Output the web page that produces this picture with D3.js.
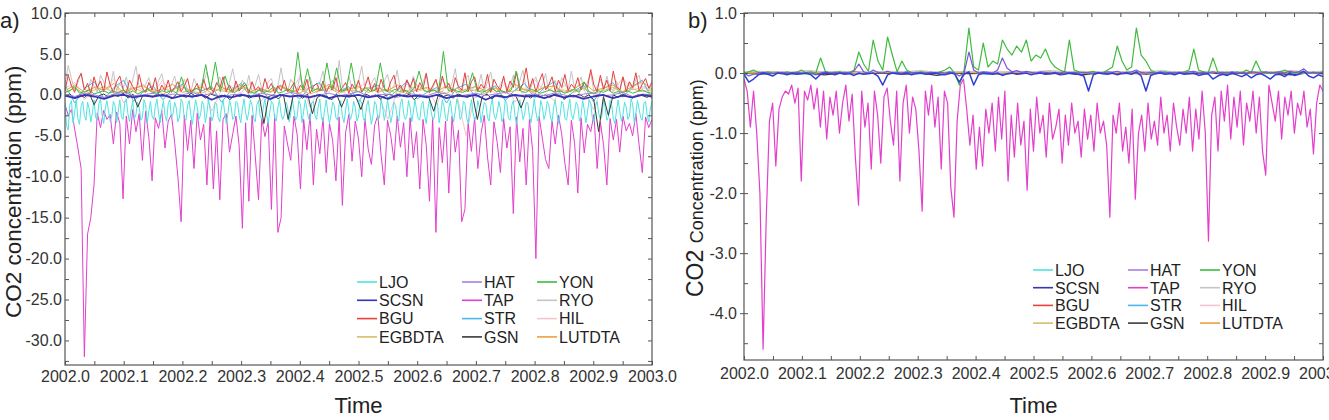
<!DOCTYPE html>
<html>
<head>
<meta charset="utf-8">
<script src="https://cdn.jsdelivr.net/npm/d3@7"></script>
<style>
  body { margin: 0; background: #fff; }
  svg { font-family: "Liberation Sans", Arial, sans-serif; }
</style>
</head>
<body>
<svg id="chart" width="1329" height="420"></svg>
<script>
// ---- data (2002.0 .. 2003.0, evenly spaced samples) ----
const stations = ["LJO", "SCSN", "BGU", "EGBDTA", "HAT", "TAP", "STR", "GSN", "YON", "RYO", "HIL", "LUTDTA"];

const xTicks = [2002.0, 2002.1, 2002.2, 2002.3, 2002.4, 2002.5, 2002.6, 2002.7, 2002.8, 2002.9, 2003.0];
const xMinorTicks = [2002.0, 2002.05, 2002.1, 2002.15, 2002.2, 2002.25, 2002.3, 2002.35, 2002.4, 2002.45, 2002.5,
  2002.55, 2002.6, 2002.65, 2002.7, 2002.75, 2002.8, 2002.85, 2002.9, 2002.95, 2003.0];
const yTicksA = [10, 5, 0, -5, -10, -15, -20, -25, -30];
const yMinorA = [10, 7.5, 5, 2.5, 0, -2.5, -5, -7.5, -10, -12.5, -15, -17.5, -20, -22.5, -25, -27.5, -30, -32.5];
const yTicksB = [1, 0, -1, -2, -3, -4];
const yMinorB = [1, 0.5, 0, -0.5, -1, -1.5, -2, -2.5, -3, -3.5, -4, -4.5];

// panel a) series
const TAP_a = [
  -1.2,-2.5,-1.8,-4.2,-6.5,-9.0,-32.0,-17.0,-15.0,-11.0,
  -2.2,-4.0,-1.9,-3.0,-2.4,-6.0,-2.1,-3.5,-12.7,-2.6,
  -6.0,-1.8,-4.5,-2.3,-8.0,-2.0,-5.2,-10.5,-2.8,-4.1,
  -1.9,-6.5,-3.2,-2.4,-5.8,-10.0,-15.5,-2.5,-6.8,-3.1,
  -9.0,-2.2,-5.5,-3.6,-11.0,-2.7,-11.5,-4.4,-12.8,-3.0,
  -2.3,-7.0,-4.8,-2.6,-6.2,-16.3,-3.4,-13.0,-2.5,-7.5,
  -12.8,-2.9,-5.1,-3.3,-14.0,-2.4,-16.8,-15.0,-3.8,-6.0,
  -8.0,-2.6,-4.9,-11.5,-3.0,-6.7,-2.3,-11.0,-4.2,-7.2,
  -2.8,-9.5,-3.5,-5.6,-10.5,-2.7,-13.5,-4.6,-2.4,-8.1,
  -3.2,-5.4,-10.0,-2.9,-6.6,-8.5,-3.7,-2.5,-7.3,-11.0,
  -3.1,-5.0,-8.0,-2.6,-6.4,-3.4,-10.0,-2.8,-7.7,-4.5,
  -11.5,-3.0,-6.1,-13.0,-2.7,-16.8,-4.0,-8.3,-3.2,-12.0,
  -2.6,-7.0,-4.3,-15.5,-14.0,-3.5,-6.9,-2.8,-9.0,-4.7,
  -2.5,-7.6,-11.0,-3.3,-5.8,-9.5,-2.9,-6.5,-3.9,-14.5,
  -2.7,-8.2,-4.1,-11.0,-3.0,-6.8,-20.0,-2.6,-5.3,-7.9,
  -9.0,-3.2,-6.0,-2.5,-4.8,-8.4,-11.0,-3.1,-5.9,-12.0,
  -2.8,-7.1,-3.6,-4.5,-2.4,-9.0,-3.3,-6.2,-11.0,-2.9,
  -5.5,-3.0,-7.0,-2.6,-4.4,-3.5,-5.0,-2.3,-6.1,-9.5,
  -2.7,-4.0,-3.0
];
const LJO_a = [
  -1.0,-3.8,-4.3,-1.2,-0.7,-3.4,-2.1,-0.6,-2.9,-3.6,-1.4,-0.8,-2.5,-3.1,-0.9,-1.7,-3.3,-2.2,-0.6,-2.8,
  -3.0,-1.1,-0.5,-2.4,-3.5,-1.6,-0.7,-2.0,-3.2,-2.6,-0.8,-1.3,-3.4,-2.1,-0.6,-2.7,-3.0,-1.0,-0.5,-2.3,
  -3.3,-1.8,-0.7,-2.9,-2.4,-0.9,-1.5,-3.1,-2.8,-0.6,-1.2,-3.5,-2.0,-0.8,-2.6,-3.0,-1.4,-0.5,-2.2,-3.4,
  -1.9,-0.7,-2.5,-3.2,-1.1,-0.6,-2.8,-2.3,-0.9,-1.6,-3.3,-2.7,-0.5,-1.0,-2.9,-3.1,-1.3,-0.7,-2.4,-3.6,
  -2.0,-0.6,-1.5,-3.0,-2.5,-0.8,-1.2,-3.4,-2.2,-0.5,-1.8,-3.2,-2.6,-0.9,-1.1,-2.8,-3.3,-1.6,-0.6,-2.1,
  -3.5,-2.3,-0.7,-1.4,-3.0,-2.7,-0.8,-1.0,-2.5,-3.4,-1.7,-0.5,-2.2,-3.1,-2.0,-0.6,-1.3,-2.9,-3.3,-1.2,
  -0.7,-2.6,-3.0,-1.5,-0.5,-2.4,-3.5,-2.1,-0.8,-1.1,-2.8,-3.2,-1.6,-0.6,-2.3,-3.0,-2.5,-0.9,-1.4,-3.3,
  -2.2,-0.5,-1.9,-3.1,-2.6,-0.7,-1.2,-3.4,-2.0,-0.6,-1.7,-2.9,-3.2,-1.0,-0.8,-2.5,-3.0,-1.5,-0.5,-2.7,
  -3.3,-1.8,-0.6,-2.2,-3.5,-2.4,-0.9,-1.3,-2.8,-3.1,-1.1,-0.7,-2.6,-3.4,-1.9,-0.5,-2.0,-3.0,-2.3,-0.8,
  -1.5,-3.2,-2.7,-0.6,-1.0,-2.9,-3.3,-1.4,-0.7,-2.1,-3.6,-2.5,-0.8,-1.2,-3.0,-2.8,-0.5,-1.6,-3.1,-2.2,
  -0.6,-1.9,-3.4,-2.4,-0.9,-1.3,-2.7,-3.2,-1.0,-0.5,-2.3,-3.0,-2.6,-0.7,-1.5,-3.3,-2.1,-0.6,-1.8,-2.9,
  -3.1,-1.2,-0.8,-2.5,-3.5,-1.7,-0.5,-2.0,-3.0,-2.8,-0.9,-1.1,-3.4,-2.3,-0.6,-1.4,-2.9,-3.2,-1.6,-0.7,
  -2.4,-3.3,-2.0,-0.5,-1.3,-3.0,-2.6,-0.8,-1.0,-2.7,-3.5,-1.8,-0.6,-2.2,-3.1,-2.5,-0.7,-1.5,-3.4,-2.1,
  -0.9,-1.2,-2.8,-3.2,-1.4,-0.5,-2.4,-3.0,-2.2,-0.8,-1.7,-3.3,-2.7,-0.6,-1.1,-2.9,-3.1,-1.3,-0.7,-2.5,
  -3.6,-2.0,-0.6,-1.6,-3.0,-2.4,-0.9,-1.0,-2.6,-3.4,-1.9,-0.5,-2.1,-3.2,-2.8,-0.7,-1.4,-3.0,-2.3,-0.8,
  -1.2,-2.7,-3.3,-1.5,-0.6,-2.2,-3.5,-2.5,-0.8,-1.1,-2.9,-3.1,-1.7,-0.5,-2.4,-3.0,-2.0,-0.9,-1.3,-3.2,
  -2.6,-0.7,-1.8,-3.4,-2.1,-0.6,-1.0,-2.8,-3.3,-1.4,-0.8,-2.3,-3.0,-2.5,-0.5,-1.6,-3.1,-2.7,-0.7,-1.2,
  -2.9,-3.5,-1.9,-0.6,-2.0,-3.2,-2.4,-0.9,-1.5,-3.0,-2.6,-0.5,-1.1,-3.4,-2.2,-0.7,-1.7,-2.8,-3.1,-1.0,
  -0.8,-2.5,-3.3,-1.6,-0.9
];
const BGU_a = [
  0.5,2.4,1.1,0.3,1.9,2.6,0.6,1.4,0.2,2.2,0.9,1.7,0.4,2.8,1.2,0.3,1.6,2.3,0.7,0.2,
  1.8,1.0,0.4,2.5,0.8,0.3,1.5,0.6,2.1,0.2,1.2,0.5,1.8,0.3,0.9,1.6,0.4,1.1,2.0,0.3,
  0.7,1.4,0.2,1.9,0.6,1.0,0.3,1.5,0.8,2.2,0.4,1.2,0.3,1.7,0.5,0.9,1.3,0.2,1.6,0.6,
  1.0,0.3,2.0,0.7,1.4,0.2,1.1,0.5,1.8,0.4,0.8,1.5,0.3,1.2,0.6,1.9,0.2,1.0,1.4,0.5,
  1.7,0.3,1.1,0.6,2.1,0.4,0.9,1.5,0.2,1.3,0.7,1.8,0.3,1.0,2.2,0.5,1.4,0.3,1.9,0.8,
  0.4,1.6,2.4,0.6,1.2,0.3,1.8,0.9,2.0,0.4,1.5,0.7,2.6,0.3,1.1,1.9,0.5,2.3,0.8,1.4,
  0.3,2.1,1.0,0.6,2.7,0.4,1.6,2.2,0.5,1.3,0.8,2.5,0.3,1.9,1.1,0.6,2.3,0.4,1.7,0.9,
  2.8,0.5,1.4,3.3,0.7,2.0,0.4,1.6,2.6,0.6,1.2,2.2,0.4,1.8,0.9,2.5,0.5,1.3,0.8,2.1,
  0.6,1.5,0.9,3.1,1.2,0.4,2.4,0.7,1.8,0.5,2.9,1.0,0.6,2.2,0.4,1.6,0.9,2.7,0.5,1.3,
  2.0,0.8,1.5
];
const RYO_a = [
  1.2,3.6,2.0,0.5,1.5,2.7,0.8,0.4,1.9,1.1,0.3,2.4,1.6,0.6,1.0,2.9,0.5,1.4,0.7,2.2,
  0.4,1.8,3.5,0.9,0.5,1.3,2.1,0.6,0.3,1.7,2.6,0.8,0.5,1.2,2.3,0.4,1.0,1.9,0.6,0.3,
  2.0,1.1,0.5,1.6,2.8,0.7,0.4,1.3,2.2,0.9,0.3,1.5,3.2,1.0,0.5,1.8,0.6,2.4,0.4,1.2,
  2.5,0.7,0.3,1.6,2.0,0.5,1.1,3.3,0.8,0.4,1.9,1.3,0.6,2.6,0.5,1.0,2.2,0.7,0.3,1.5,
  2.9,0.6,1.2,1.8,0.4,4.2,1.0,0.5,2.3,0.8,0.3,1.6,3.5,0.9,0.5,1.4,2.1,0.6,0.4,1.7,
  2.5,0.7,1.1,3.0,0.5,0.9,1.9,0.4,2.3,1.2,0.6,1.5,2.7,0.5,0.8,1.8,0.3,2.0,1.0,0.6,
  1.4,3.2,0.7,0.4,1.9,2.4,0.5,1.1,0.8,2.5,0.4,1.6,2.8,0.6,0.3,1.3,2.0,0.7,1.0,2.4,
  0.5,1.7,3.0,0.8,0.4,1.5,2.2,0.6,1.2,2.6,0.5,0.9,1.8,0.3,2.1,1.4,0.6,2.9,0.7,1.1,
  2.2,0.5,1.6,2.6,0.4,1.0,1.9,0.6,2.3,0.8,0.5,1.7,0.3,2.2,0.9,1.5,0.6,1.9,2.4,0.7,
  1.1,0.5,1.8
];
const YON_a = [
  0.3,0.5,1.0,0.2,0.4,0.6,0.1,0.3,0.5,0.2,
  0.4,0.3,0.6,0.2,0.5,0.1,0.4,0.7,0.3,0.2,
  0.5,0.3,0.6,0.2,2.2,0.4,0.3,0.8,0.5,3.7,
  0.6,4.0,0.4,2.3,0.5,0.3,0.7,1.5,0.4,0.2,
  0.6,0.3,0.5,1.0,0.2,0.4,0.7,0.3,5.2,0.6,
  3.2,0.4,0.8,0.5,3.9,0.6,3.3,0.4,0.7,3.9,
  0.5,0.3,0.9,0.4,0.6,3.9,0.5,0.3,0.7,0.4,
  0.6,0.3,0.8,2.9,0.5,0.4,0.6,0.3,5.3,0.5,
  0.7,0.4,0.3,0.6,2.7,0.4,0.5,0.3,0.8,0.4,
  0.5,0.3,0.6,2.9,0.4,0.3,0.7,0.5,0.2,0.4,
  0.6,0.3,0.5,0.2,0.4,0.7,0.3,1.6,0.4,0.2,
  0.5,0.3,0.6,0.2,0.4,0.3,0.5,0.2,0.4,0.6,
  0.3,0.2
];
const GSN_a = [
  -0.2,0.1,-0.4,0.0,-0.3,0.2,-1.2,-0.1,0.1,-0.3,
  0.0,-0.2,0.2,-0.4,0.1,-1.5,-0.1,0.0,-0.3,0.1,
  -0.2,0.0,-0.5,0.1,-0.1,-0.3,0.2,-0.2,0.0,-0.4,
  0.1,-0.1,-0.3,0.0,-0.6,0.1,-0.2,0.0,-0.4,-0.1,
  0.1,-3.5,-0.2,0.0,-0.5,0.1,-3.0,-0.2,0.0,-0.4,
  0.1,-2.3,-0.3,0.0,-0.2,-0.6,0.1,-1.5,-0.1,0.0,
  -0.3,-1.8,0.1,-0.2,0.0,-0.5,-0.1,0.1,-0.3,0.0,
  -0.2,0.1,-0.6,0.0,-0.1,-0.3,-2.0,0.1,-0.2,0.0,
  -0.4,0.1,-0.1,-0.3,0.0,-3.0,-0.2,0.1,-0.5,0.0,
  -0.1,-0.3,0.1,-0.2,-1.6,0.0,-0.4,0.1,-0.2,0.0,
  -0.3,0.1,-0.1,-0.5,0.0,-0.2,0.1,-0.3,0.0,-0.6,
  -4.5,-0.2,-2.5,0.0,-0.3,0.1,-0.2,-0.4,0.0,-0.1,
  -0.3,0.0
];
const SCSN_a = [
  -0.1,-0.4,0.0,-0.2,-0.5,-0.1,0.0,-0.3,-0.1,-0.2,
  0.0,-0.4,-0.1,-0.2,0.0,-0.6,-0.1,-0.3,0.0,-0.2,
  -0.1,-0.5,0.0,-0.2,-0.1,-0.3,0.0,-0.4,-0.1,-0.2,
  0.0,-0.3,-0.1,-0.5,0.0,-0.2,-0.1,-0.3,0.0,-0.4,
  -0.1,-0.2,0.0,-0.6,-0.1,-0.3,0.0,-0.2,-0.1,-0.4,
  0.0,-0.3,-0.1,-0.5,-0.2,0.0,-0.4,-0.1,-0.3,0.0,
  -0.2
];
const HAT_a = [
  0.1,-0.2,0.2,0.0,-0.3,0.1,0.3,-0.1,0.0,0.2,
  -0.2,0.1,0.0,0.3,-0.1,0.2,-0.3,0.0,0.1,-0.2,
  0.2,0.0,-0.1,0.3,0.1,-0.2,0.0,0.2,-0.1,0.1,
  0.4,-0.2,0.0,0.1,-0.3,0.2,0.0,-0.1,0.3,0.1,
  -0.2,0.0,0.2,-0.1,0.1,0.3,-0.2,0.0,0.1,-0.1,
  0.2,0.0,-0.3,0.1,0.2,-0.1,0.0,0.3,-0.2,0.1,
  0.0
];
const STR_a = [
  1.2,-1.0,0.8,1.6,-0.5,0.9,1.8,-0.8,0.4,1.1,
  -0.6,0.7,1.3,-0.4,0.5,1.0,-0.9,0.6,1.4,-0.3,
  0.8,-0.7,1.2,0.3,-0.5,0.9,1.5,-0.6,0.4,1.0,
  -0.8,0.7,1.2,-0.4,0.6,1.7,-0.5,0.3,0.9,-1.0,
  0.8,1.3,-0.3,0.5,1.1,-0.7,0.6,1.4,-0.4,0.9,
  1.6,-0.6,0.4,1.2,-0.8,0.7,1.5,-0.3,1.0,1.8,
  -0.5
];
const HIL_a = [
  0.8,1.5,-0.6,1.1,0.4,2.0,-1.0,0.7,1.3,0.2,
  1.8,-0.5,0.9,0.3,1.4,-2.0,0.6,1.0,0.2,1.6,
  -0.8,0.5,1.2,0.3,2.2,-1.5,0.7,0.4,1.1,-0.4,
  0.9,1.7,0.2,-3.0,0.6,1.3,0.4,0.8,-1.2,1.5,
  0.3,-5.0,0.7,1.0,0.2,1.4,-0.9,0.6,1.9,0.4,
  -0.7,1.2,0.5,0.8,-1.8,1.1,0.3,2.1,0.6,1.0,
  0.4
];
const EGBDTA_a = [
  0.3,0.8,0.1,0.6,1.0,0.2,0.5,0.9,0.3,0.7,
  0.1,0.6,1.1,0.4,0.2,0.8,0.5,0.3,0.9,0.2,
  0.6,0.4,1.0,0.3,0.7,0.1,0.5,0.8,0.2,0.6,
  0.4,0.9,0.3,0.7,0.1,0.5,1.2,0.3,0.6,0.2,
  0.8,0.4,0.6,0.1,0.9,0.3,0.5,0.7,0.2,1.0,
  0.4,0.6,0.3,0.8,0.1,0.5,0.9,0.3,0.7,0.4,
  0.6
];
const LUTDTA_a = [
  0.5,1.2,0.3,0.9,0.6,1.4,0.2,0.8,1.1,0.4,
  0.7,1.3,0.3,0.6,1.0,0.2,0.9,0.5,1.2,0.4,
  0.8,0.3,1.1,0.6,0.2,0.9,0.5,1.3,0.4,0.7,
  1.0,0.3,0.8,0.5,1.2,0.2,0.6,0.9,0.4,1.1,
  0.3,0.7,1.0,0.5,0.8,0.2,1.3,0.6,0.4,0.9,
  1.1,0.3,0.7,1.5,0.5,0.8,1.2,0.4,1.0,1.6,
  0.7
];

// panel b) series
const TAP_b = [
  -0.1,-0.3,-0.9,-0.3,-1.0,-2.0,-4.6,-2.4,-0.8,-0.5,
  -1.55,-0.6,-0.4,-0.3,-0.35,-0.2,-0.5,-0.25,-1.8,-0.3,
  -0.45,-0.2,-0.6,-0.25,-0.9,-0.3,-1.1,-0.4,-0.7,-0.3,
  -1.0,-0.5,-0.2,-0.8,-0.35,-1.4,-2.2,-0.3,-0.9,-0.5,
  -1.6,-0.3,-0.7,-1.5,-0.4,-0.25,-0.8,-1.2,-0.3,-1.8,
  -0.5,-0.2,-1.0,-0.4,-0.6,-1.3,-2.3,-0.3,-0.7,-0.2,
  -0.9,-0.4,-1.6,-0.3,-0.5,-1.9,-2.4,-0.8,-0.2,-0.1,
  -0.6,-1.2,-0.7,-1.6,-0.9,-1.55,-0.6,-1.0,-0.5,-1.3,
  -0.4,-1.1,-0.3,-1.8,-0.7,-1.4,-0.5,-1.2,-0.8,-1.95,
  -0.6,-1.3,-0.4,-1.0,-0.7,-1.4,-0.5,-1.1,-0.9,-0.6,
  -1.5,-0.7,-1.2,-0.5,-1.0,-0.8,-1.4,-0.6,-1.1,-0.7,
  -1.3,-0.5,-1.0,-0.8,-1.2,-2.4,-0.7,-1.0,-0.5,-1.3,
  -0.9,-1.5,-0.6,-2.1,-1.0,-0.7,-1.3,-0.5,-1.1,-0.8,
  -1.2,-0.4,-1.0,-0.7,-1.3,-0.5,-0.9,-1.2,-0.6,-1.0,
  -0.4,-1.3,-0.6,-1.1,-0.3,-1.0,-2.8,-0.7,-0.4,-1.3,
  -0.3,-0.8,-0.2,-1.1,-0.4,-0.9,-0.3,-1.2,-0.5,-0.8,
  -0.3,-1.0,-0.4,-1.3,-1.7,-0.2,-0.5,-0.8,-0.3,-1.1,
  -0.4,-0.7,-0.3,-1.0,-0.5,-0.7,-0.3,-0.9,-0.6,-1.35,
  -0.5,-0.2,-0.3
];
const YON_b = [
  0.0,0.02,0.05,0.01,0.0,0.02,0.0,0.01,0.0,0.02,
  0.0,0.01,0.05,0.0,0.02,0.0,0.25,0.03,0.0,0.01,
  0.02,0.0,0.01,0.05,0.35,0.15,0.03,0.55,0.2,0.05,
  0.6,0.3,0.02,0.2,0.05,0.01,0.0,0.02,0.0,0.01,
  0.0,0.02,0.05,0.1,0.0,-0.2,0.05,0.75,0.1,0.05,
  0.5,0.1,0.2,0.15,0.55,0.4,0.3,0.45,0.35,0.55,
  0.2,0.3,0.25,0.4,0.2,0.1,0.05,0.02,0.55,0.05,
  0.02,0.0,0.01,0.03,0.0,0.01,0.05,0.1,0.45,0.2,
  0.05,0.1,0.75,0.3,0.2,0.05,0.01,0.0,0.02,0.0,
  0.01,0.0,0.02,0.05,0.4,0.05,0.02,0.0,0.25,0.02,
  0.0,0.01,0.0,0.02,0.0,0.05,0.01,0.2,0.03,0.0,
  0.01,0.0,0.02,0.05,0.01,0.0,0.02,0.01,0.0,0.01,
  0.0,0.02
];
const SCSN_b = [
  -0.02,-0.15,-0.1,-0.03,0.0,-0.02,-0.05,0.0,-0.01,-0.03,
  0.0,-0.02,-0.01,0.0,-0.03,-0.1,-0.02,0.0,-0.01,-0.03,
  0.0,-0.02,-0.01,-0.04,0.0,-0.02,-0.01,0.0,-0.05,-0.2,
  -0.03,0.0,-0.01,-0.02,0.0,-0.03,-0.01,0.0,-0.02,-0.01,
  0.0,-0.02,-0.03,0.0,-0.01,-0.15,-0.02,0.02,-0.2,-0.03,
  0.0,-0.01,-0.02,0.0,-0.04,-0.01,0.0,-0.02,-0.01,0.0,
  -0.03,-0.01,0.0,-0.02,-0.01,0.0,-0.03,-0.02,0.0,-0.01,
  -0.02,-0.05,-0.3,-0.03,0.0,-0.01,-0.02,0.0,-0.03,-0.01,
  0.0,-0.02,0.02,-0.05,-0.3,-0.04,-0.01,0.0,-0.02,-0.01,
  -0.03,0.0,-0.02,-0.01,0.0,-0.04,-0.02,-0.01,-0.1,-0.05,
  -0.02,-0.04,0.0,-0.03,-0.06,-0.02,-0.08,-0.03,-0.01,-0.05,
  -0.1,-0.03,-0.02,-0.06,0.0,-0.04,-0.02,0.03,-0.05,-0.08,
  -0.03,-0.06
];
const HAT_b = [
  0.0,-0.05,-0.02,0.0,0.01,0.0,-0.01,0.0,0.01,0.0,
  0.0,0.01,0.0,-0.01,0.0,-0.03,0.0,0.02,0.0,0.01,
  0.0,0.01,0.0,0.03,0.15,0.02,0.0,0.05,0.01,0.0,
  0.03,0.0,0.01,0.0,0.02,0.0,0.01,0.0,0.0,0.01,
  0.0,0.01,0.0,0.02,0.0,-0.05,0.0,0.35,0.05,0.0,
  0.02,0.01,0.0,0.05,0.25,0.08,0.02,0.04,0.01,0.03,
  0.01,0.0,0.02,0.01,0.0,0.01,0.0,0.02,0.0,0.01,
  0.0,0.01,0.0,0.0,0.01,0.0,0.02,0.01,0.03,0.0,
  0.01,0.02,0.05,0.01,0.0,0.01,0.0,0.02,0.0,0.01,
  0.0,0.01,0.0,0.02,0.03,0.0,0.01,0.0,0.02,0.0,
  0.01,0.0,0.02,0.0,0.01,0.0,0.02,0.01,0.0,0.02,
  0.0,0.01,0.02,0.0,0.03,0.01,0.02,0.07,0.0,0.01,
  0.0,0.01
];
const LJO_b = [0.0,-0.01,0.01,0.0,-0.02,0.0,0.01,-0.01,0.0,0.0,0.01,-0.01,0.0,0.02,0.0,-0.01,0.0,0.01,0.0,-0.01,
  0.0,0.0,0.01,0.0,-0.01,0.0,0.01,0.0,-0.01,0.0,0.0,0.01,0.0,-0.01,0.0,0.01,0.0];
const BGU_b = [0.01,0.0,0.02,0.0,0.01,0.0,0.01,0.02,0.0,0.01,0.0,0.02,0.01,0.0,0.01,0.0,0.02,0.0,0.01,0.0,
  0.01,0.02,0.0,0.01,0.0,0.01,0.0,0.02,0.01,0.0,0.01,0.0,0.02,0.0,0.01,0.0,0.01];
const EGBDTA_b = [0.0,0.01,0.0,0.0,0.01,0.0,-0.01,0.0,0.01,0.0,0.0,0.01,0.0,0.0,-0.01,0.0,0.01,0.0,0.0,0.01,
  0.0,0.0,0.0,0.01,0.0,-0.01,0.0,0.0,0.01,0.0,0.0,0.01,0.0,0.0,0.0,0.01,0.0];
const STR_b = [-0.01,0.0,0.01,-0.02,0.0,0.01,0.0,-0.01,0.0,0.02,0.0,-0.01,0.0,0.01,0.0,-0.02,0.0,0.01,0.0,0.0,
  -0.01,0.0,0.01,0.0,-0.01,0.0,0.02,0.0,-0.01,0.0,0.01,0.0,-0.01,0.0,0.01,0.0,-0.01];
const GSN_b = [0.0,-0.02,0.0,-0.01,0.0,-0.03,0.0,-0.01,0.0,0.0,-0.02,0.0,-0.04,0.0,-0.01,0.0,-0.02,0.0,0.0,-0.01,
  0.0,-0.03,0.0,-0.01,0.0,-0.02,0.0,0.0,-0.01,0.0,-0.02,0.0,-0.01,0.0,-0.03,0.0,-0.01];
const RYO_b = [0.02,0.03,0.01,0.02,0.04,0.02,0.03,0.01,0.02,0.03,0.02,0.04,0.01,0.02,0.03,0.02,0.01,0.03,0.02,0.04,
  0.02,0.03,0.01,0.02,0.03,0.02,0.04,0.01,0.02,0.03,0.02,0.01,0.03,0.02,0.04,0.02,0.03];
const HIL_b = [0.01,0.0,0.02,0.01,0.0,0.01,0.03,0.0,0.01,0.02,0.0,0.01,0.0,0.02,0.01,0.0,0.03,0.01,0.0,0.02,
  0.01,0.0,0.01,0.02,0.0,0.01,0.0,0.02,0.01,0.0,0.03,0.01,0.0,0.02,0.01,0.0,0.01];
const LUTDTA_b = [0.0,0.01,0.01,0.0,0.02,0.0,0.01,0.0,0.01,0.02,0.0,0.01,0.0,0.0,0.02,0.01,0.0,0.01,0.0,0.02,
  0.0,0.01,0.01,0.0,0.02,0.0,0.01,0.0,0.01,0.02,0.0,0.01,0.0,0.0,0.02,0.01,0.0];

// ---- styling ----
const colors = {
  LJO: "#4fe3e3", SCSN: "#3535b5", BGU: "#e8403c", EGBDTA: "#d9bd6a",
  HAT: "#a67fe0", TAP: "#e33fcc", STR: "#4db6ea", GSN: "#3a3a3a",
  YON: "#3dbb3d", RYO: "#c4c4c4", HIL: "#f5c4cf", LUTDTA: "#efa040"
};
const FONT = '"Liberation Sans", Arial, sans-serif';
const svg = d3.select("#chart");

function drawPanel(p) {
  const x = d3.scaleLinear().domain([2002, 2003]).range([p.left, p.right]);
  const y = d3.scaleLinear().domain(p.yDomain).range([p.bottom, p.top]);
  const g = svg.append("g");

  svg.append("clipPath").attr("id", "clip-" + p.name)
    .append("rect")
    .attr("x", p.left).attr("y", p.top)
    .attr("width", p.right - p.left).attr("height", p.bottom - p.top);

  const line = d3.line().x(d => x(d[0])).y(d => y(d[1]));
  const plot = g.append("g").attr("clip-path", `url(#clip-${p.name})`);
  p.order.forEach(name => {
    const vals = p.series[name];
    const pts = vals.map((v, i) => [2002 + i / (vals.length - 1), v]);
    plot.append("path")
      .datum(pts)
      .attr("d", line)
      .attr("fill", "none")
      .attr("stroke", (p.colorOverride && p.colorOverride[name]) || colors[name])
      .attr("stroke-width", (p.widths && p.widths[name]) || p.lineWidth)
      .attr("stroke-linejoin", "round");
  });

  // inward tick marks on all four sides
  const tickStyle = sel => {
    sel.select(".domain").remove();
    sel.selectAll("line").attr("stroke", "#555");
    sel.selectAll("text").remove();
  };
  g.append("g").attr("transform", `translate(0,${p.bottom})`)
    .call(d3.axisBottom(x).tickValues(xMinorTicks).tickSize(-4)).call(tickStyle);
  g.append("g").attr("transform", `translate(0,${p.top})`)
    .call(d3.axisTop(x).tickValues(xMinorTicks).tickSize(-4)).call(tickStyle);
  g.append("g").attr("transform", `translate(${p.left},0)`)
    .call(d3.axisLeft(y).tickValues(p.yMinor).tickSize(-4)).call(tickStyle);
  g.append("g").attr("transform", `translate(${p.right},0)`)
    .call(d3.axisRight(y).tickValues(p.yMinor).tickSize(-4)).call(tickStyle);
  if (p.outTicks) {
    g.append("g").attr("transform", `translate(${p.left},0)`)
      .call(d3.axisLeft(y).tickValues(p.yTicks).tickSize(4)).call(tickStyle);
  }

  // frame
  g.append("rect")
    .attr("x", p.left).attr("y", p.top)
    .attr("width", p.right - p.left).attr("height", p.bottom - p.top)
    .attr("fill", "none").attr("stroke", "#555").attr("stroke-width", 1.2);

  // tick labels
  const xl = g.append("g").attr("transform", `translate(0,${p.bottom})`)
    .call(d3.axisBottom(x).tickValues(xTicks).tickSize(0).tickPadding(p.xPad).tickFormat(d => d.toFixed(1)));
  xl.select(".domain").remove();
  xl.selectAll("text").attr("font-size", 16).attr("font-family", FONT).attr("fill", "#333");

  const yl = g.append("g").attr("transform", `translate(${p.left},0)`)
    .call(d3.axisLeft(y).tickValues(p.yTicks).tickSize(0).tickPadding(p.yPad).tickFormat(d => d.toFixed(1)));
  yl.select(".domain").remove();
  yl.selectAll("text").attr("font-size", 16).attr("font-family", FONT).attr("fill", "#333");

  // axis titles
  g.append("text")
    .attr("x", (p.left + p.right) / 2).attr("y", 413)
    .attr("text-anchor", "middle").attr("font-size", 22).attr("fill", "#222")
    .text("Time");

  const yt = g.append("text")
    .attr("transform", `translate(${p.titleX},${p.titleY}) rotate(-90)`)
    .attr("text-anchor", "start").attr("fill", "#222");
  p.titleParts.forEach(t => yt.append("tspan").attr("font-size", t.size).text(t.text));

  g.append("text")
    .attr("x", p.tagX).attr("y", 28)
    .attr("font-size", 22).attr("fill", "#222")
    .text(p.tag);

  // legend (3 columns, column-major)
  const lg = g.append("g");
  stations.forEach((name, i) => {
    const col = Math.floor(i / 4), row = i % 4;
    const lx = p.legendCols[col], ly = p.legendTop + row * p.legendStep;
    lg.append("line")
      .attr("x1", lx).attr("x2", lx + 20).attr("y1", ly).attr("y2", ly)
      .attr("stroke", colors[name]).attr("stroke-width", 1.6);
    lg.append("text")
      .attr("x", lx + 22).attr("y", ly + 5.8)
      .attr("font-size", 16).attr("fill", "#222")
      .text(name);
  });
}

drawPanel({
  name: "a", tag: "a)", tagX: 0,
  left: 65, right: 652, top: 13, bottom: 365,
  yDomain: [-33, 10], yTicks: yTicksA, yMinor: yMinorA,
  xPad: 6, yPad: 3, outTicks: false,
  lineWidth: 1,
  widths: { SCSN: 1.8 },
  series: {
    LJO: LJO_a, SCSN: SCSN_a, BGU: BGU_a, EGBDTA: EGBDTA_a, HAT: HAT_a, TAP: TAP_a,
    STR: STR_a, GSN: GSN_a, YON: YON_a, RYO: RYO_a, HIL: HIL_a, LUTDTA: LUTDTA_a
  },
  order: ["RYO", "HIL", "STR", "EGBDTA", "LUTDTA", "BGU", "YON", "TAP", "LJO", "GSN", "HAT", "SCSN"],
  titleX: 21, titleY: 318,
  titleParts: [{ text: "CO2 concentration (ppm)", size: 22.5 }],
  legendCols: [357, 462, 537], legendTop: 282, legendStep: 18.3
});

drawPanel({
  name: "b", tag: "b)", tagX: 688,
  left: 744, right: 1323, top: 13, bottom: 360,
  yDomain: [-4.78, 1.0], yTicks: yTicksB, yMinor: yMinorB,
  xPad: 8, yPad: 7, outTicks: true,
  lineWidth: 1.2,
  colorOverride: { SCSN: "#2f3fd8", HAT: "#7a55d8" },
  widths: { SCSN: 1.5 },
  series: {
    LJO: LJO_b, SCSN: SCSN_b, BGU: BGU_b, EGBDTA: EGBDTA_b, HAT: HAT_b, TAP: TAP_b,
    STR: STR_b, GSN: GSN_b, YON: YON_b, RYO: RYO_b, HIL: HIL_b, LUTDTA: LUTDTA_b
  },
  order: ["LJO", "BGU", "EGBDTA", "STR", "GSN", "HIL", "LUTDTA", "RYO", "TAP", "YON", "HAT", "SCSN"],
  titleX: 703, titleY: 297,
  titleParts: [{ text: "CO2 ", size: 23 }, { text: "Concentration (ppm)", size: 18 }],
  legendCols: [1033, 1128, 1200], legendTop: 270, legendStep: 17.7
});
</script>
</body>
</html>
